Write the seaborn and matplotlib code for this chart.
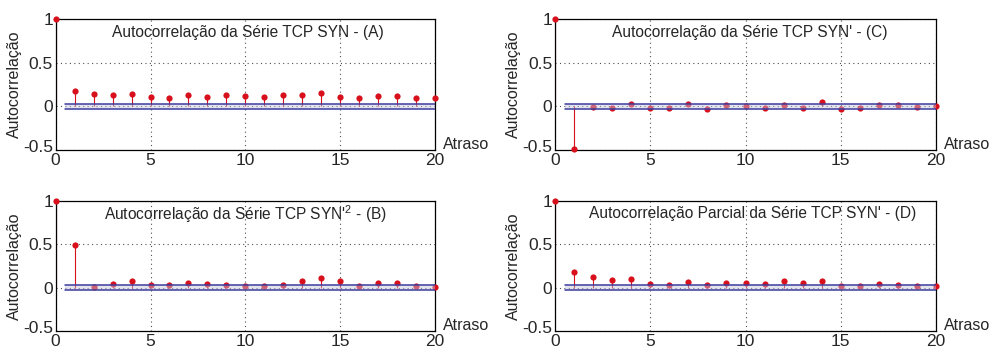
import numpy as np
import pandas as pd
import matplotlib
matplotlib.use("Agg")
import matplotlib.pyplot as plt
import matplotlib.transforms as mtransforms
import seaborn as sns

lags = list(range(0, 21))
acf_a = [1.0, 0.18, 0.145, 0.125, 0.145, 0.105, 0.095, 0.125, 0.105, 0.125, 0.115,
         0.105, 0.125, 0.125, 0.155, 0.105, 0.095, 0.12, 0.12, 0.09, 0.10]
acf_b = [1.0, 0.49, 0.01, 0.04, 0.07, 0.035, 0.027, 0.05, 0.04, 0.03, 0.018,
         0.02, 0.03, 0.07, 0.107, 0.07, 0.02, 0.05, 0.05, 0.02, 0.01]
acf_c = [1.0, -0.49, -0.01, -0.02, 0.03, -0.02, -0.02, 0.03, -0.03, 0.01, 0.005,
         -0.015, 0.01, -0.015, 0.05, -0.03, -0.015, 0.01, 0.01, -0.005, 0.0]
pacf_d = [1.0, 0.18, 0.125, 0.085, 0.095, 0.045, 0.035, 0.065, 0.035, 0.057, 0.05,
          0.038, 0.07, 0.05, 0.077, 0.02, 0.02, 0.038, 0.03, 0.02, 0.02]
conf_bound = 0.025
band_lags = [0.5, 20]

titles = ["Autocorrelação da Série TCP SYN - (A)",
          "Autocorrelação da Série TCP SYN' - (C)",
          "Autocorrelação da Série TCP SYN'$^{2}$ - (B)",
          "Autocorrelação Parcial da Série TCP SYN' - (D)"]
series = [acf_a, acf_c, acf_b, pacf_d]
title_x = [0.506, 0.512, 0.50, 0.518]
ylabel = "Autocorrelação"
xlabel = "Atraso"
xticks = [0, 5, 10, 15, 20]
yticks = [-0.5, 0, 0.5, 1]
ytick_labels = ["-0.5", "0", "0.5", "1"]

sns.set_style("white")
plt.rcParams['font.family'] = ['Liberation Sans', 'DejaVu Sans']
plt.rcParams['mathtext.fontset'] = 'custom'
plt.rcParams['mathtext.rm'] = 'Liberation Sans'
plt.rcParams['mathtext.it'] = 'Liberation Sans'

fig = plt.figure(figsize=(9.89, 3.47), dpi=100)
positions = [
    [0.0563, 0.5677, 0.3835, 0.3775],
    [0.5612, 0.5677, 0.3852, 0.3775],
    [0.0563, 0.0461, 0.3835, 0.3755],
    [0.5612, 0.0461, 0.3852, 0.3755],
]

red = '#d8101c'
blue = '#3c3c9c'

for pos, vals, title, tx in zip(positions, series, titles, title_x):
    ax = fig.add_axes(pos)
    df = pd.DataFrame({"lag": lags, "value": vals})
    ax.vlines(df["lag"], 0, df["value"], color=red, linewidth=0.8, zorder=2)
    sns.scatterplot(data=df, x="lag", y="value", ax=ax, color=red, s=20,
                    edgecolor=red, linewidth=0, zorder=3, clip_on=False)
    ax.fill_between(band_lags, [-conf_bound] * 2, [conf_bound] * 2,
                    color='#c4c4dc', alpha=0.45, linewidth=0, zorder=4)
    ax.plot(band_lags, [conf_bound] * 2, color=blue, linewidth=1.1, zorder=5)
    ax.plot(band_lags, [-conf_bound] * 2, color=blue, linewidth=1.1, zorder=5)
    ax.set_xlim(0, 20)
    ax.set_ylim(-0.5, 1)
    ax.set_xticks(xticks)
    ax.set_xticklabels([str(t) for t in xticks])
    ax.set_yticks(yticks)
    ax.set_yticklabels(ytick_labels)
    ax.tick_params(axis='both', labelsize=12.5, direction='in', length=3,
                   color='black')
    ax.tick_params(axis='x', pad=2)
    ax.tick_params(axis='y', pad=2)
    # nudge lowest y tick label up slightly so it does not collide with x "0"
    lbl = ax.get_yticklabels()[0]
    lbl.set_transform(lbl.get_transform() +
                      mtransforms.ScaledTranslation(0, 3 / 72, fig.dpi_scale_trans))
    ax.grid(True, linestyle=(0, (1, 3)), color='#505050', linewidth=0.8)
    ax.set_axisbelow(True)
    for sp in ax.spines.values():
        sp.set_visible(True)
        sp.set_color('black')
        sp.set_linewidth(0.9)
    ax.set_xlabel("")
    ax.set_ylabel(ylabel, fontsize=11.5, labelpad=1)
    ax.text(tx, 0.9, title, transform=ax.transAxes, ha='center', va='center',
            fontsize=11.2, zorder=6)
    ax.text(1.021, 0.04, xlabel, transform=ax.transAxes, ha='left', va='center',
            fontsize=11.5)

fig.savefig("out.png", dpi=100)
